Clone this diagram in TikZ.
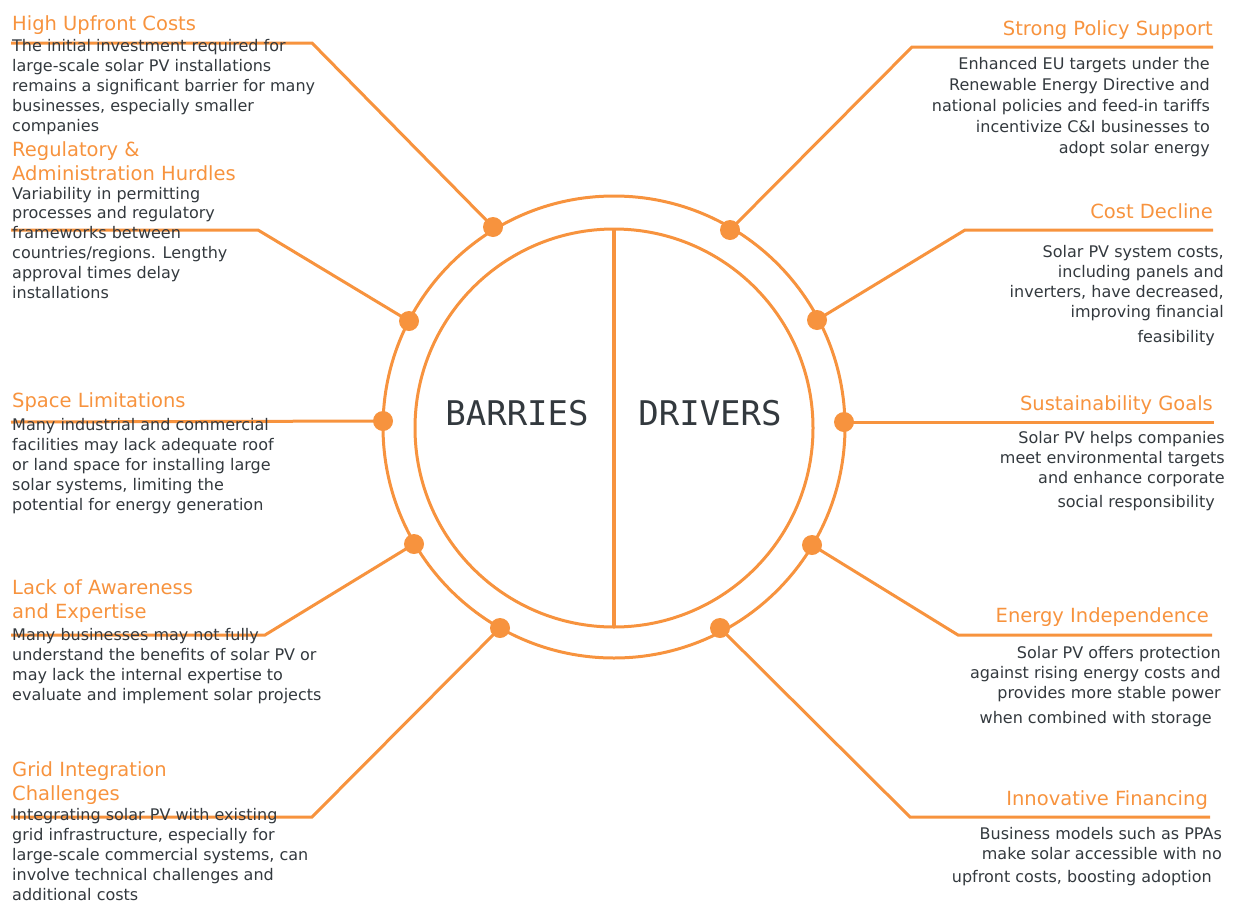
\documentclass[tikz,border=0pt]{standalone}
\usepackage{fontspec}
\setmainfont{DejaVu Sans}
\newfontfamily\hubfont{DejaVu Sans Mono}
\definecolor{accent}{RGB}{247,147,62}
\definecolor{ink}{RGB}{51,57,62}
\tikzset{
  lead/.style={draw=accent,line width=3pt},
  dot/.style={circle,fill=accent,inner sep=0pt,minimum size=20pt},
  ltitle/.style={text=accent,inner sep=0pt,anchor=base west,align=left,font=\fontsize{19.5}{24}\selectfont},
  rtitle/.style={text=accent,inner sep=0pt,anchor=base east,align=right,font=\fontsize{19.5}{24}\selectfont},
  lbody/.style={text=ink,inner sep=0pt,anchor=base west,align=left,font=\fontsize{16}{19.8}\selectfont},
  rbody/.style={text=ink,inner sep=0pt,anchor=base east,align=right,font=\fontsize{16}{19.8}\selectfont},
}
\begin{document}
\begin{tikzpicture}[x=1pt,y=-1pt]
  \useasboundingbox (0,0) rectangle (1233,905);

  % hub
  \node[draw=accent,circle,line width=3pt,inner sep=0pt,outer sep=0pt,minimum size=462pt] at (614,427) (outer) {};
  \node[draw=accent,circle,line width=3pt,inner sep=0pt,outer sep=0pt,minimum size=398pt] at (614,428) (inner) {};
  \draw[accent,line width=4pt] (inner.north) -- (inner.south);
  \node[text=ink,inner sep=0pt,anchor=base,font=\hubfont\fontsize{34}{34}\selectfont] at (517,425) (h-b) {BARRIES};
  \node[text=ink,inner sep=0pt,anchor=base,font=\hubfont\fontsize{34}{34}\selectfont] at (710,425) (h-d) {DRIVERS};

  % dots on the ring
  \node[dot] at (493,227) (d-b1) {};
  \node[dot] at (409,321) (d-b2) {};
  \node[dot] at (383,421) (d-b3) {};
  \node[dot] at (414,544) (d-b4) {};
  \node[dot] at (500,628) (d-b5) {};
  \node[dot] at (730,230) (d-d1) {};
  \node[dot] at (817,320) (d-d2) {};
  \node[dot] at (844,422) (d-d3) {};
  \node[dot] at (812,545) (d-d4) {};
  \node[dot] at (720,628) (d-d5) {};

  % leader lines
  \coordinate (k-b1) at (312,43);  \coordinate (e-b1) at (11,43);
  \coordinate (k-b2) at (258,230); \coordinate (e-b2) at (11,230);
  \coordinate (e-b3) at (11,422);
  \coordinate (k-b4) at (265,635); \coordinate (e-b4) at (11,635);
  \coordinate (k-b5) at (312,817); \coordinate (e-b5) at (11,817);
  \coordinate (k-d1) at (912,47);  \coordinate (e-d1) at (1213,47);
  \coordinate (k-d2) at (965,230); \coordinate (e-d2) at (1213,230);
  \coordinate (e-d3) at (1214,422);
  \coordinate (k-d4) at (958,635); \coordinate (e-d4) at (1212,635);
  \coordinate (k-d5) at (910,817); \coordinate (e-d5) at (1210,817);

  \draw[lead] (d-b1.center) -- (k-b1) -- (e-b1);
  \draw[lead] (d-b2.center) -- (k-b2) -- (e-b2);
  \draw[lead] (d-b3.center) -- (e-b3);
  \draw[lead] (d-b4.center) -- (k-b4) -- (e-b4);
  \draw[lead] (d-b5.center) -- (k-b5) -- (e-b5);
  \draw[lead] (d-d1.center) -- (k-d1) -- (e-d1);
  \draw[lead] (d-d2.center) -- (k-d2) -- (e-d2);
  \draw[lead] (d-d3.center) -- (e-d3);
  \draw[lead] (d-d4.center) -- (k-d4) -- (e-d4);
  \draw[lead] (d-d5.center) -- (k-d5) -- (e-d5);

  % barriers (base = last line)
  \node[ltitle] at (12,30) (t-b1) {High Upfront Costs};
  \node[lbody] at (12,131) (x-b1) {The initial investment required for\\large-scale solar PV installations\\remains a significant barrier for many\\businesses, especially smaller\\companies};
  \node[ltitle] at (12,180) (t-b2) {Regulatory \&\\Administration Hurdles};
  \node[lbody] at (12,298) (x-b2) {Variability in permitting\\processes and regulatory\\frameworks between\\countries/regions. Lengthy\\approval times delay\\installations};
  \node[ltitle] at (12,407) (t-b3) {Space Limitations};
  \node[lbody] at (12,510) (x-b3) {Many industrial and commercial\\facilities may lack adequate roof\\or land space for installing large\\solar systems, limiting the\\potential for energy generation};
  \node[ltitle] at (12,618) (t-b4) {Lack of Awareness\\and Expertise};
  \node[lbody] at (12,700) (x-b4) {Many businesses may not fully\\understand the benefits of solar PV or\\may lack the internal expertise to\\evaluate and implement solar projects};
  \node[ltitle] at (12,800) (t-b5) {Grid Integration\\Challenges};
  \node[lbody] at (12,900) (x-b5) {Integrating solar PV with existing\\grid infrastructure, especially for\\large-scale commercial systems, can\\involve technical challenges and\\additional costs};

  % drivers
  \node[rtitle] at (1213,35) (t-d1) {Strong Policy Support};
  \node[rbody] at (1210,153) (x-d1) {Enhanced EU targets under the\\[1pt]Renewable Energy Directive and\\[1pt]national policies and feed-in tariffs\\[1pt]incentivize C\&I businesses to\\[1pt]adopt solar energy};
  \node[rtitle] at (1213,218) (t-d2) {Cost Decline};
  \node[rbody] at (1224,342) (x-d2) {Solar PV system costs,\\including panels and\\inverters, have decreased,\\improving financial\hspace*{4pt}\\[5pt]feasibility\hspace*{9pt}};
  \node[rtitle] at (1213,410) (t-d3) {Sustainability Goals};
  \node[rbody] at (1225,507) (x-d3) {Solar PV helps companies\\meet environmental targets\\and enhance corporate\hspace*{4pt}\\[4pt]social responsibility\hspace*{10pt}};
  \node[rtitle] at (1209,622) (t-d4) {Energy Independence};
  \node[rbody] at (1221,723) (x-d4) {Solar PV offers protection\\against rising energy costs and\\provides more stable power\hspace*{5pt}\\[5pt]when combined with storage\hspace*{9pt}};
  \node[rtitle] at (1208,805) (t-d5) {Innovative Financing};
  \node[rbody] at (1222,882) (x-d5) {Business models such as PPAs\\make solar accessible with no\hspace*{5pt}\\[3pt]upfront costs, boosting adoption\hspace*{10pt}};
\end{tikzpicture}
\end{document}
